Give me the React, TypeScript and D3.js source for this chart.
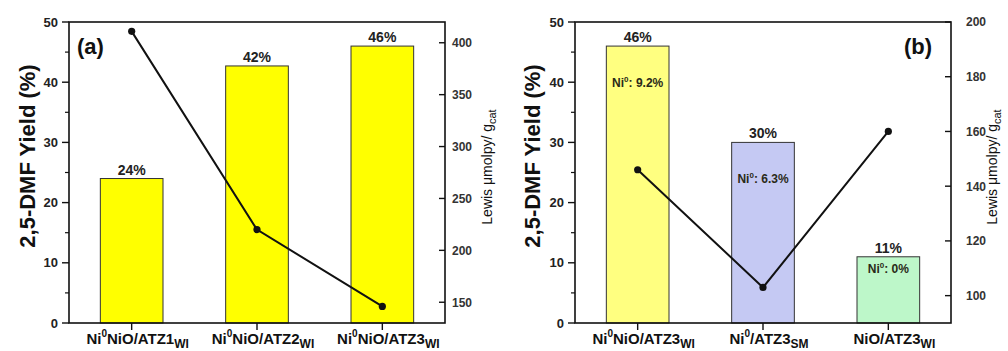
import React from "react";
import * as d3 from "d3";

// panel (a)
const labelsA = [
  ["Ni", "0", "NiO/ATZ1", "WI"],
  ["Ni", "0", "NiO/ATZ2", "WI"],
  ["Ni", "0", "NiO/ATZ3", "WI"],
];
const yieldA = [24, 42.7, 46];
const yieldTextA = ["24%", "42%", "46%"];
const lewisA = [411, 220, 146];
const rightTicksA = [150, 200, 250, 300, 350, 400];

// panel (b)
const labelsB = [
  ["Ni", "0", "NiO/ATZ3", "WI"],
  ["Ni", "0", "/ATZ3", "SM"],
  ["", "", "NiO/ATZ3", "WI"],
];
const yieldB = [46, 30, 11];
const yieldTextB = ["46%", "30%", "11%"];
const lewisB = [146, 103, 160];
const niTextB = ["9.2%", "6.3%", "0%"];
const rightTicksB = [100, 120, 140, 160, 180, 200];

const leftTicks = [0, 10, 20, 30, 40, 50];
const leftMinor = [5, 15, 25, 35, 45];

const FONT = "'Liberation Sans', Arial, sans-serif";
const TOP = 22;
const BOTTOM = 323;

const Panel = ({ x0, x1, tag, labels, yields, yieldText, lewis, lewisDomain, rightTicks, colors, niText, niOffset, rightLabelGap, leftTitleX, rightTitleX, tagX }) => {
  const idx = yields.map((d, i) => i);
  const x = d3.scaleBand().domain(idx).range([x0, x1]).paddingInner(0.5).paddingOuter(0.25);
  const y = d3.scaleLinear().domain([0, 50]).range([BOTTOM, TOP]);
  const yr = d3.scaleLinear().domain(lewisDomain).range([BOTTOM, TOP]);
  const cx = i => x(i) + x.bandwidth() / 2;
  const line = d3.line().x((d, i) => cx(i)).y(d => yr(d));

  return (
    <g fontFamily={FONT}>
      {yields.map((v, i) => (
        <g key={i}>
          <rect x={x(i)} y={y(v)} width={x.bandwidth()} height={BOTTOM - y(v)} fill={colors[i]} stroke="#333" strokeWidth={1} />
          <text x={cx(i)} y={y(v) - 4} textAnchor="middle" fontSize={14} fontWeight="bold" fill="#222">{yieldText[i]}</text>
          {niText && (
            <text x={cx(i)} y={y(v) + niOffset[i]} textAnchor="middle" fontSize={12} fontWeight="bold" fill="#2a2a18">
              <tspan>Ni</tspan>
              <tspan fontSize={8} dy={-5}>0</tspan>
              <tspan dy={5}>{": " + niText[i]}</tspan>
            </text>
          )}
        </g>
      ))}

      {/* frame */}
      <rect x={x0} y={TOP} width={x1 - x0} height={BOTTOM - TOP} fill="none" stroke="#111" strokeWidth={1.6} />

      {/* left axis */}
      {leftTicks.map(t => (
        <g key={t}>
          <line x1={x0 - 7} x2={x0} y1={y(t)} y2={y(t)} stroke="#111" strokeWidth={1.4} />
          <text x={x0 - 11} y={y(t)} dy="0.36em" textAnchor="end" fontSize={13} fontWeight="bold" fill="#222">{t}</text>
        </g>
      ))}
      {leftMinor.map(t => (
        <line key={t} x1={x0 - 4} x2={x0} y1={y(t)} y2={y(t)} stroke="#111" strokeWidth={1.2} />
      ))}
      <text transform={`translate(${leftTitleX},156) rotate(-90)`} textAnchor="middle" dy="0.36em" fontSize={22} fontWeight="bold" fill="#111">
        2,5-DMF Yield (%)
      </text>

      {/* right axis */}
      {rightTicks.map(t => (
        <g key={t}>
          <line x1={x1 - 6} x2={x1} y1={yr(t)} y2={yr(t)} stroke="#111" strokeWidth={1.4} />
          <text x={x1 + rightLabelGap} y={yr(t)} dy="0.36em" fontSize={12} fontWeight="bold" fill="#333">{t}</text>
        </g>
      ))}
      <text transform={`translate(${rightTitleX},167) rotate(-90)`} textAnchor="middle" fontSize={14} fill="#111">
        <tspan>Lewis μmolpy/ g</tspan>
        <tspan fontSize={11} dy={4}>cat</tspan>
      </text>

      {/* bottom axis */}
      {labels.map((p, i) => (
        <g key={i}>
          <line x1={cx(i)} x2={cx(i)} y1={BOTTOM} y2={BOTTOM + 7} stroke="#111" strokeWidth={1.4} />
          <text x={cx(i) + 6} y={344} textAnchor="middle" fontSize={15} fontWeight="bold" fill="#111">
            {p[0] && <tspan>{p[0]}</tspan>}
            {p[1] && <tspan fontSize={10} dy={-7}>{p[1]}</tspan>}
            <tspan dy={p[1] ? 7 : 0}>{p[2]}</tspan>
            <tspan fontSize={12} dy={4}>{p[3]}</tspan>
          </text>
        </g>
      ))}

      {/* lewis line */}
      <path d={line(lewis)} fill="none" stroke="#111" strokeWidth={2} />
      {lewis.map((v, i) => (
        <circle key={i} cx={cx(i)} cy={yr(v)} r={3.6} fill="#111" />
      ))}

      <text x={tagX} y={54} fontSize={22} fontWeight="bold" fill="#111">{tag}</text>
    </g>
  );
};

export default function App() {
  return (
    <div style={{ position: "absolute", left: 0, top: 0 }}>
      <svg width={1008} height={351} style={{ display: "block", background: "#fff" }}>
        <Panel
          x0={69} x1={445} tag="(a)" tagX={77}
          labels={labelsA} yields={yieldA} yieldText={yieldTextA}
          lewis={lewisA} lewisDomain={[130, 420]} rightTicks={rightTicksA}
          colors={["#ffff00", "#ffff00", "#ffff00"]}
          rightLabelGap={7} leftTitleX={27} rightTitleX={492}
        />
        <Panel
          x0={575} x1={951} tag="(b)" tagX={904}
          labels={labelsB} yields={yieldB} yieldText={yieldTextB}
          lewis={lewisB} lewisDomain={[90, 200]} rightTicks={rightTicksB}
          colors={["#ffff80", "#c5c9f3", "#bdf7c9"]}
          niText={niTextB} niOffset={[41, 41, 16]}
          rightLabelGap={15} leftTitleX={532} rightTitleX={997}
        />
      </svg>
    </div>
  );
}
